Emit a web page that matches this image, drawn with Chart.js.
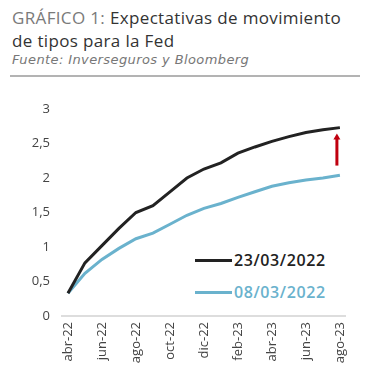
<!DOCTYPE html>
<html>
<head>
<meta charset="utf-8">
<script src="https://cdn.jsdelivr.net/npm/chart.js@4.4.1/dist/chart.umd.min.js"></script>
<style>
  body { margin: 0; background: #fff; width: 372px; height: 392px; position: relative; overflow: hidden; font-family: "Open Sans", sans-serif; }
  .titulo { position: absolute; left: 12px; top: 6px; font-size: 17px; line-height: 23px; color: #333; letter-spacing: 0.35px; }
  .titulo .gris { color: #7a7a7a; }
  .fuente { position: absolute; left: 12px; top: 52px; font-size: 13px; font-style: italic; color: #777; letter-spacing: 0.4px; font-family: "DejaVu Sans", sans-serif; }
  .raya { position: absolute; left: 10px; top: 75px; width: 350px; height: 2px; background: #b3b3b3; }
  .leyenda { position: absolute; left: 195px; font-size: 16px; font-weight: 600; letter-spacing: 0.6px; display: flex; align-items: center; }
  .leyenda span.linea { display: inline-block; width: 37px; height: 3px; margin-right: 2px; }
  #graf { position: absolute; left: 0; top: 85px; }
</style>
</head>
<body>
<div class="titulo"><span class="gris">GRÁFICO 1:</span> Expectativas de movimiento<br>de tipos para la Fed</div>
<div class="fuente">Fuente: Inverseguros y Bloomberg</div>
<div class="raya"></div>
<div class="leyenda" style="top:249px;color:#222"><span class="linea" style="background:#222"></span>23/03/2022</div>
<div class="leyenda" style="top:281px;color:#6ab2cd"><span class="linea" style="background:#6ab2cd"></span>08/03/2022</div>
<canvas id="graf" width="372" height="307"></canvas>
<script>
// meses (mensual), se etiqueta uno de cada dos
const meses = ['abr-22', 'may-22', 'jun-22', 'jul-22', 'ago-22', 'sep-22', 'oct-22', 'nov-22', 'dic-22',
               'ene-23', 'feb-23', 'mar-23', 'abr-23', 'may-23', 'jun-23', 'jul-23', 'ago-23'];
const serie230322 = [0.33, 0.77, 1.02, 1.27, 1.5, 1.6, 1.8, 2.0, 2.13, 2.22, 2.36, 2.45, 2.53, 2.6, 2.66, 2.7, 2.73];
const serie080322 = [0.33, 0.62, 0.82, 0.98, 1.12, 1.2, 1.33, 1.46, 1.56, 1.63, 1.72, 1.8, 1.88, 1.93, 1.97, 2.0, 2.04];
const ticksY = [0, 0.5, 1, 1.5, 2, 2.5, 3];
// flecha roja en el último mes: desde / hasta
const flecha = [2.18, 2.63];

const puntos = (arr) => arr.map((v, i) => ({ x: i, y: v }));

// Dibuja la flecha roja entre las dos curvas
const pluginFlecha = {
    id: 'flecha',
    afterDatasetsDraw(chart) {
        const ctx = chart.ctx;
        const x = chart.scales.x.getPixelForValue(meses.length - 1) - 3;
        const y0 = chart.scales.y.getPixelForValue(flecha[0]);
        const y1 = chart.scales.y.getPixelForValue(flecha[1]);
        ctx.save();
        ctx.strokeStyle = '#c0000f';
        ctx.fillStyle = '#c0000f';
        ctx.lineWidth = 3;
        ctx.beginPath();
        ctx.moveTo(x, y0);
        ctx.lineTo(x, y1 + 4);
        ctx.stroke();
        ctx.beginPath();
        ctx.moveTo(x - 3.5, y1 + 5);
        ctx.lineTo(x + 3.5, y1 + 5);
        ctx.lineTo(x, y1 - 1);
        ctx.closePath();
        ctx.fill();
        ctx.restore();
    }
};

new Chart(document.getElementById('graf'), {
    type: 'line',
    data: {
        datasets: [{
            label: '23/03/2022',
            data: puntos(serie230322),
            borderColor: '#222',
            borderWidth: 3,
            pointRadius: 0,
            tension: 0
        }, {
            label: '08/03/2022',
            data: puntos(serie080322),
            borderColor: '#6ab2cd',
            borderWidth: 3,
            pointRadius: 0,
            tension: 0
        }]
    },
    options: {
        responsive: false,
        animation: false,
        layout: { padding: { top: 24, right: 27, left: 0, bottom: 0 } },
        plugins: {
            legend: { display: false },
            tooltip: { enabled: false }
        },
        scales: {
            x: {
                type: 'linear',
                min: -0.35,
                max: 16.3,
                afterBuildTicks: (s) => { s.ticks = meses.map((m, i) => ({ value: i })).filter(t => t.value % 2 === 0); },
                afterFit: (s) => { s.height = 76; },
                grid: { display: false, drawTicks: false },
                border: { color: '#ddd', width: 2 },
                ticks: {
                    callback: (v) => meses[v],
                    maxRotation: 90,
                    minRotation: 90,
                    autoSkip: false,
                    padding: 6,
                    color: '#444',
                    font: { family: 'Open Sans', size: 13 }
                }
            },
            y: {
                min: 0,
                max: 3,
                afterBuildTicks: (s) => { s.ticks = ticksY.map(v => ({ value: v })); },
                afterFit: (s) => { s.width = 62; },
                grid: { display: false, drawTicks: false },
                border: { display: false },
                ticks: {
                    callback: (v) => String(v).replace('.', ','),
                    padding: 12,
                    color: '#444',
                    font: { family: 'Open Sans', size: 13 }
                }
            }
        }
    },
    plugins: [pluginFlecha]
});
</script>
</body>
</html>
